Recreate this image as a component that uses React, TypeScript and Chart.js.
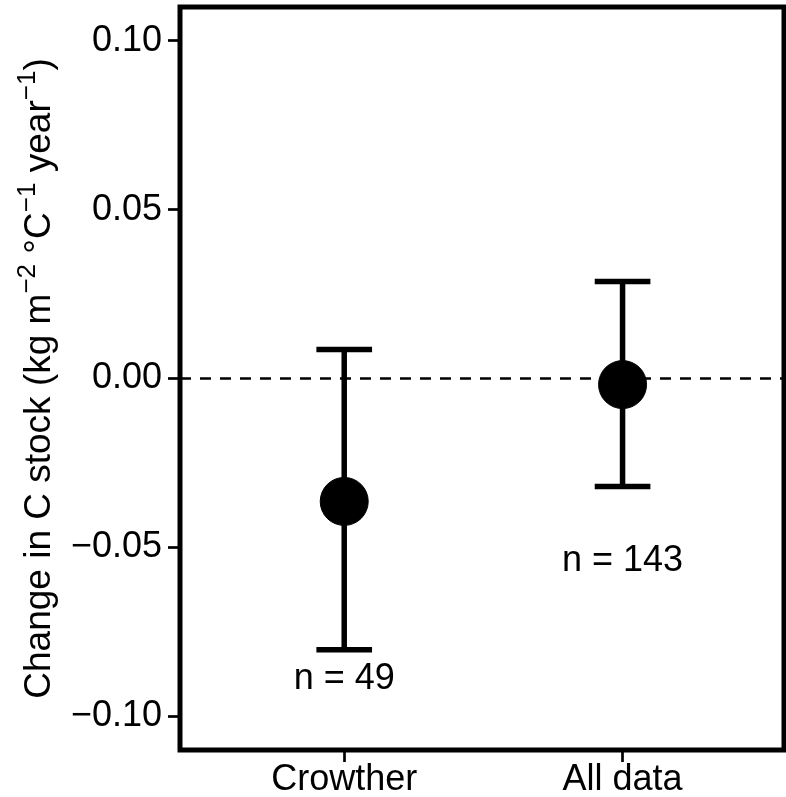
import React, { useEffect, useRef } from "react";
import { Chart, registerables } from "chart.js";

Chart.register(...registerables);

const categories = ["Crowther", "All data"];
const means = [-0.0364, -0.0018];
const lowerCI = [-0.0803, -0.032];
const upperCI = [0.0086, 0.0287];
const nLabels = ["n = 49", "n = 143"];
const nLabelY = [-0.089, -0.054];
const yTickValues = [-0.1, -0.05, 0, 0.05, 0.1];
const yTickLabels = ["\u22120.10", "\u22120.05", "0.00", "0.05", "0.10"];
const refLineValue = 0;

const FONT = '"Liberation Sans", Arial, Helvetica, sans-serif';

export default function App() {
  const canvasRef = useRef<HTMLCanvasElement | null>(null);

  useEffect(() => {
    document.body.style.margin = "0";
    const canvas = canvasRef.current;
    if (!canvas) return;

    const refLinePlugin = {
      id: "refLine",
      beforeDatasetsDraw(chart: any) {
        const { ctx, chartArea, scales } = chart;
        const y = scales.y.getPixelForValue(refLineValue);
        ctx.save();
        ctx.strokeStyle = "#000";
        ctx.lineWidth = 2.7;
        ctx.setLineDash([11, 9]);
        ctx.beginPath();
        ctx.moveTo(chartArea.left, y);
        ctx.lineTo(chartArea.right, y);
        ctx.stroke();
        ctx.restore();

        // error bars
        const capHalf = 0.1;
        ctx.save();
        ctx.strokeStyle = "#000";
        ctx.lineWidth = 5.5;
        ctx.lineCap = "butt";
        categories.forEach((_, i) => {
          const px = scales.x.getPixelForValue(i + 1);
          const hw = scales.x.getPixelForValue(i + 1 + capHalf) - px;
          const yTop = scales.y.getPixelForValue(upperCI[i]);
          const yBot = scales.y.getPixelForValue(lowerCI[i]);
          ctx.beginPath();
          ctx.moveTo(px, yTop);
          ctx.lineTo(px, yBot);
          ctx.moveTo(px - hw, yTop);
          ctx.lineTo(px + hw, yTop);
          ctx.moveTo(px - hw, yBot);
          ctx.lineTo(px + hw, yBot);
          ctx.stroke();
        });
        ctx.restore();
      },
      afterDraw(chart: any) {
        const { ctx, chartArea, scales } = chart;
        // n labels
        ctx.save();
        ctx.fillStyle = "#000";
        ctx.font = `36px ${FONT}`;
        ctx.textAlign = "center";
        ctx.textBaseline = "middle";
        nLabels.forEach((t, i) => {
          ctx.fillText(t, scales.x.getPixelForValue(i + 1), scales.y.getPixelForValue(nLabelY[i]));
        });
        ctx.restore();

        // panel border
        ctx.save();
        ctx.strokeStyle = "#000";
        ctx.lineWidth = 5;
        ctx.strokeRect(chartArea.left, chartArea.top, chartArea.right - chartArea.left, chartArea.bottom - chartArea.top);
        ctx.restore();

        // y-axis title with superscripts
        const segs = [
          { t: "Change in C stock (kg m", s: 37, sup: false },
          { t: "\u22122", s: 26, sup: true },
          { t: " \u00B0C", s: 37, sup: false },
          { t: "\u22121", s: 26, sup: true },
          { t: " year", s: 37, sup: false },
          { t: "\u22121", s: 26, sup: true },
          { t: ")", s: 37, sup: false },
        ];
        ctx.save();
        ctx.fillStyle = "#000";
        ctx.textBaseline = "alphabetic";
        ctx.textAlign = "left";
        let total = 0;
        const widths = segs.map((sg) => {
          ctx.font = `${sg.s}px ${FONT}`;
          const w = ctx.measureText(sg.t).width;
          total += w;
          return w;
        });
        const cy = (chartArea.top + chartArea.bottom) / 2;
        ctx.translate(50, cy);
        ctx.rotate(-Math.PI / 2);
        let x = -total / 2;
        segs.forEach((sg, i) => {
          ctx.font = `${sg.s}px ${FONT}`;
          ctx.fillText(sg.t, x, sg.sup ? -15 : 0);
          x += widths[i];
        });
        ctx.restore();
      },
    };

    const zeroPad = (scale: any) => {
      scale.paddingTop = 0;
      scale.paddingBottom = 0;
      scale.paddingLeft = 0;
      scale.paddingRight = 0;
    };

    const chart = new Chart(canvas, {
      type: "scatter",
      data: {
        datasets: [
          {
            data: categories.map((_, i) => ({ x: i + 1, y: means[i] })),
            backgroundColor: "#000",
            borderColor: "#000",
            borderWidth: 1,
            pointRadius: 24,
            pointHoverRadius: 24,
          },
        ],
      },
      options: {
        responsive: false,
        animation: false,
        events: [],
        layout: { autoPadding: false, padding: { left: 0, right: 2, top: 7, bottom: 0 } },
        plugins: { legend: { display: false }, tooltip: { enabled: false } },
        scales: {
          x: {
            type: "linear",
            min: 0.41,
            max: 2.58,
            afterBuildTicks: (scale: any) => {
              scale.ticks = categories.map((_, i) => ({ value: i + 1 }));
            },
            afterFit: (scale: any) => {
              scale.height = 47;
              zeroPad(scale);
            },
            ticks: {
              autoSkip: false,
              maxRotation: 0,
              padding: -4,
              color: "#000",
              font: { family: FONT, size: 36 },
              callback: (v: any) => categories[Math.round(Number(v)) - 1] ?? "",
            },
            grid: {
              display: true,
              drawOnChartArea: false,
              drawTicks: true,
              tickLength: 12,
              tickWidth: 2.7,
              tickColor: "#000",
            },
            border: { display: false },
          },
          y: {
            type: "linear",
            min: -0.11,
            max: 0.11,
            afterBuildTicks: (scale: any) => {
              scale.ticks = yTickValues.map((v) => ({ value: v }));
            },
            afterFit: (scale: any) => {
              scale.width = 180;
              zeroPad(scale);
            },
            ticks: {
              autoSkip: false,
              padding: 6,
              color: "#000",
              font: { family: FONT, size: 36 },
              callback: (v: any) => {
                const idx = yTickValues.findIndex((t) => Math.abs(t - Number(v)) < 1e-9);
                return idx >= 0 ? yTickLabels[idx] : "";
              },
            },
            grid: {
              display: true,
              drawOnChartArea: false,
              drawTicks: true,
              tickLength: 12,
              tickWidth: 2.7,
              tickColor: "#000",
            },
            border: { display: false },
          },
        },
      },
      plugins: [refLinePlugin],
    });

    return () => chart.destroy();
  }, []);

  return (
    <div style={{ width: 786, height: 797, background: "#fff" }}>
      <canvas ref={canvasRef} width={786} height={797} style={{ display: "block" }} />
    </div>
  );
}
